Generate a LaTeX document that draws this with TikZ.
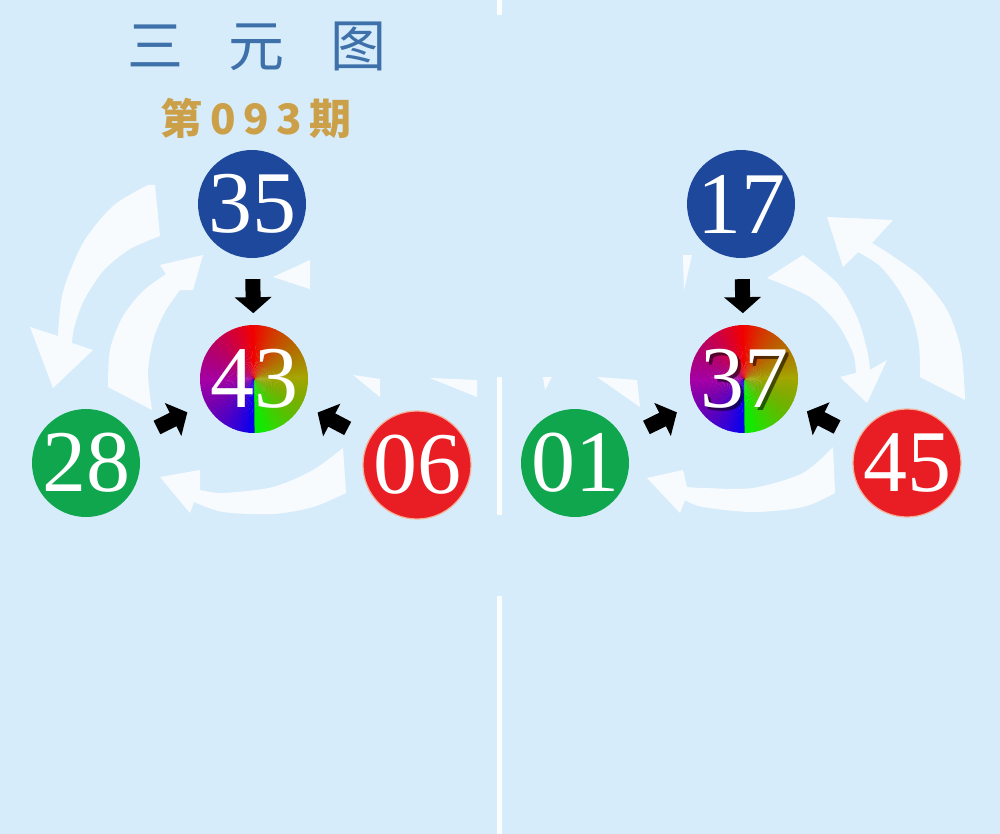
\documentclass[tikz,border=0pt]{standalone}
\usepackage{fontspec}
\newfontfamily\cjk{Noto Sans CJK SC}
\newfontfamily\cjkwide[LetterSpace=18]{Noto Sans CJK SC}
\newfontfamily\numfont{Liberation Serif}
\usetikzlibrary{calc}
\definecolor{bg}{RGB}{215,236,250}
\definecolor{ballblue}{RGB}{30,72,155}
\definecolor{ballgreen}{RGB}{16,166,78}
\definecolor{ballred}{RGB}{232,30,36}
\definecolor{rimred}{RGB}{245,175,150}
\definecolor{titleblue}{RGB}{62,112,170}
\definecolor{gold}{RGB}{204,160,72}
\newcommand\mixwedges{%
  \foreach \t in {270,273,...,627}{%
    \pgfmathsetmacro\hh{mod(120-(\t-270)*2/3+720,360)}%
    \pgfmathsetmacro\bb{0.95-0.3*abs(cos(\t))}%
    \definecolor{wedge}{Hsb}{\hh,1,\bb}%
    \fill[wedge] (path picture bounding box.center) -- +(\t:62pt) -- +(\t+3.6:62pt) -- cycle;
  }}
\tikzset{
  ball/.style={circle, minimum size=108pt, inner sep=0pt, text=white,
    font=\numfont\fontsize{88}{88}\selectfont},
  redball/.style={ball, fill=ballred, draw=rimred, line width=1.2pt},
  mixball/.style={ball, path picture={\mixwedges #1}},
  swoosh/.style={fill=white, fill opacity=0.82},
  divider/.style={fill=white, fill opacity=0.9},
  blockarrow/.pic={\fill[black] (-17pt,-7.5pt) -- (1pt,-7.5pt) -- (1pt,-18.5pt) -- (17pt,0pt) -- (1pt,18.5pt) -- (1pt,7.5pt) -- (-17pt,7.5pt) -- cycle;},
  blockarrowrev/.pic={\fill[black] (17pt,-7.5pt) -- (-1pt,-7.5pt) -- (-1pt,-18.5pt) -- (-17pt,0pt) -- (-1pt,18.5pt) -- (-1pt,7.5pt) -- (17pt,7.5pt) -- cycle;}
}
\begin{document}
\begin{tikzpicture}[x=1pt,y=-1pt]
\fill[bg] (0,0) rectangle (1000,834);
\useasboundingbox (0,0) rectangle (1000,834);
% dividers
\fill[divider] (497,0) rectangle (502,15);
\fill[divider] (497,377) rectangle (502,515);
\fill[divider] (497,596) rectangle (502,834);
% titles
\node[font=\cjk\fontsize{56}{56}\selectfont, text=titleblue] (title) at (257,46) {三\hspace{46pt}元\hspace{46pt}图};
\node[font=\cjkwide\bfseries\fontsize{42}{42}\selectfont, text=gold] (issue) at (256,118) {第093期};
% white swooshes left
\fill[swoosh] (155,185) -- (160,236)
  -- plot[smooth] coordinates {(160,236) (130,249) (104,270) (84,300) (74,328) (72,343)}
  -- (93,350) -- (53,388) -- (30,327)
  -- plot[smooth] coordinates {(58,336) (63,292) (83,243) (113,206) (148,185)} -- cycle;
\fill[swoosh] (152,410) -- (108,387)
  -- plot[smooth] coordinates {(108,387) (110,350) (122,318) (142,292) (166,274)}
  -- (160,265) -- (203,255) -- (193,290)
  -- plot[smooth] coordinates {(180,290) (166,310) (154,337) (148,372) (152,410)} -- cycle;
\fill[swoosh] (343,448)
  -- plot[smooth] coordinates {(343,448) (313,470) (273,487) (223,493) (200,490)}
  -- (200,470) -- (160,477) -- (190,513)
  -- plot[smooth] coordinates {(194,502) (223,512) (273,514) (313,507) (346,493)} -- cycle;
\fill[swoosh] (273,277) -- (310,260) -- (310,289) -- cycle;
\fill[swoosh] (353,375) -- (380,379) -- (380,397) -- cycle;
\fill[swoosh] (430,378) -- (477,380) -- (477,397) -- cycle;
% white swooshes right
\fill[swoosh] (920,377) -- (965,400)
  -- plot[smooth] coordinates {(965,400) (961,350) (947,310) (921,277) (891,255) (872,243)}
  -- (893,220) -- (827,217) -- (843,267)
  -- plot[smooth] coordinates {(858,252) (880,266) (899,290) (912,316) (919,345) (920,377)} -- cycle;
\fill[swoosh] (767,278) -- (803,255)
  -- plot[smooth] coordinates {(803,255) (837,283) (857,317) (867,350) (870,370)}
  -- (887,360) -- (867,403) -- (840,377)
  -- plot[smooth] coordinates {(856,373) (853,353) (837,323) (810,297) (767,278)} -- cycle;
\fill[swoosh] (833,447)
  -- plot[smooth] coordinates {(833,447) (803,473) (753,488) (703,488) (687,487)}
  -- (683,470) -- (647,478) -- (680,513)
  -- plot[smooth] coordinates {(685,500) (703,507) (753,512) (803,507) (835,493)} -- cycle;
\fill[swoosh] (683,255) -- (692,255) -- (684,290) -- cycle;
\fill[swoosh] (543,377) -- (552,377) -- (545,390) -- cycle;
\fill[swoosh] (597,377) -- (637,380) -- (640,407) -- cycle;
% balls left
\node[ball, fill=ballblue] (c35) at (252,204) {35};
\node[mixball={}] (c43) at (254,379) {43};
\node[ball, fill=ballgreen] (c28) at (86,463) {28};
\node[redball] (c06) at (417,465) {06};
% balls right
\node[ball, fill=ballblue] (c17) at (741,204) {17};
\node[mixball={\node[text=black, opacity=0.55] at ([shift={(3pt,-3pt)}]path picture bounding box.center) {37};}] (c37) at (744,379) {37};
\node[ball, fill=ballgreen] (c01) at (575,463) {01};
\node[redball] (c45) at (907,463) {45};
% black arrows
\path (c35) -- (c43) pic[pos=0.57, sloped] {blockarrow};
\path (c28) -- (c43) pic[pos=0.53, sloped] {blockarrow};
\path (c43) -- (c06) pic[pos=0.46, sloped] {blockarrowrev};
\path (c17) -- (c37) pic[pos=0.57, sloped] {blockarrow};
\path (c01) -- (c37) pic[pos=0.53, sloped] {blockarrow};
\path (c37) -- (c45) pic[pos=0.45, sloped] {blockarrowrev};
\end{tikzpicture}
\end{document}
